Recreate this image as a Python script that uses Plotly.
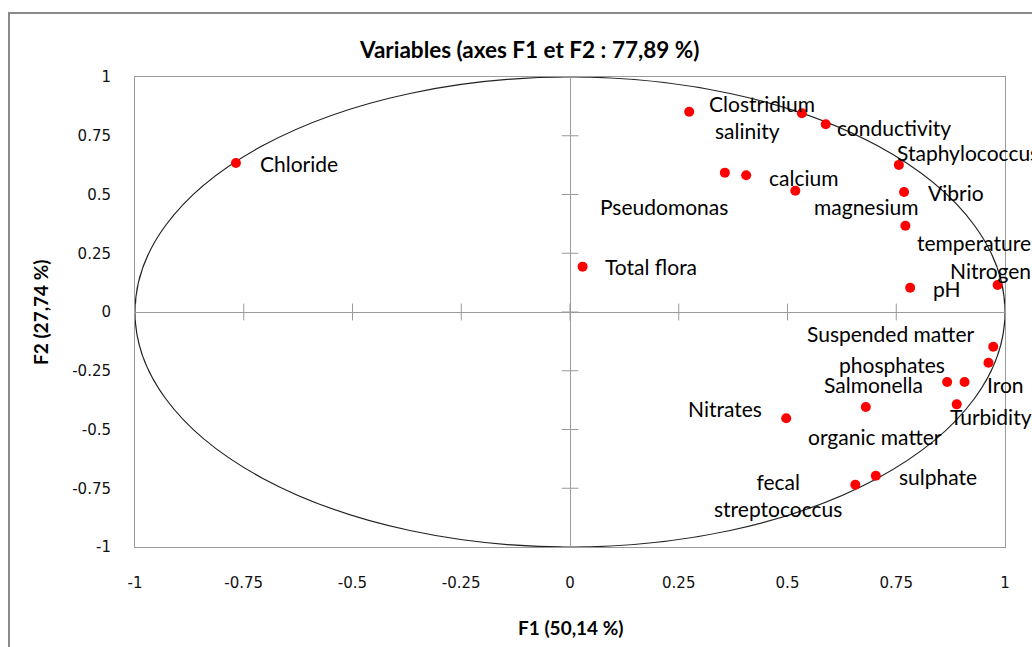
import plotly.graph_objects as go

# ---- data ----
variables = ["Chloride", "Clostridium", "salinity", "conductivity", "Staphylococcus",
             "Pseudomonas", "calcium", "magnesium", "Vibrio", "temperature",
             "Total flora", "pH", "Nitrogen", "Suspended matter", "phosphates",
             "Salmonella", "Iron", "Turbidity", "organic matter", "Nitrates",
             "sulphate", "fecal<br>streptococcus"]
f1 = [-0.768, 0.274, 0.533, 0.588, 0.756,
      0.356, 0.405, 0.518, 0.768, 0.771,
      0.029, 0.782, 0.983, 0.973, 0.962,
      0.867, 0.907, 0.889, 0.680, 0.497,
      0.703, 0.656]
f2 = [0.634, 0.852, 0.846, 0.799, 0.626,
      0.593, 0.582, 0.516, 0.511, 0.367,
      0.193, 0.103, 0.115, -0.148, -0.216,
      -0.298, -0.298, -0.393, -0.404, -0.452,
      -0.697, -0.735]
tick_values = [-1, -0.75, -0.5, -0.25, 0, 0.25, 0.5, 0.75, 1]
tick_text = ["-1", "-0.75", "-0.5", "-0.25", "0", "0.25", "0.5", "0.75", "1"]
title_text = "Variables (axes F1 et F2 : 77,89 %)"
x_title = "F1 (50,14 %)"
y_title = "F2 (27,74 %)"

# ---- label placement (pixel offsets from each point) ----
label_dx = [22, 18, -89, 9, -4,
            -127, 21, 17, 22, 10,
            20, 21, -50, -188, -151,
            -125, 20, -9, -60, -100,
            21, -77]
label_dy = [0, 8, -17, -3, 12,
            -34, -2, -16, -1, -17,
            0, -1, 14, 13, -2,
            -2, -2, -12, -30, 10,
            -1, -10]
label_anchor = ["left"] * 21 + ["center"]

W, H = 1032, 647
ML, MR, MT, MB = 135, 27, 77, 100
PW, PH = W - ML - MR, H - MT - MB


def px(xp):
    return (xp - ML) / PW


def py(yp):
    return (H - MB - yp) / PH


LABEL_FONT = dict(family="Lato", size=21, color="black")
GRAY = "#9a9a9a"

fig = go.Figure()

# cross tick marks on the zero lines
fig.add_trace(go.Scatter(
    x=tick_values, y=[0] * len(tick_values), mode="markers",
    marker=dict(symbol="line-ns", size=12, line=dict(width=1, color=GRAY)),
    hoverinfo="skip", showlegend=False))
fig.add_trace(go.Scatter(
    x=[0] * len(tick_values), y=tick_values, mode="markers",
    marker=dict(symbol="line-ew", size=12, line=dict(width=1, color=GRAY)),
    hoverinfo="skip", showlegend=False))

# variables
fig.add_trace(go.Scatter(
    x=f1, y=f2, mode="markers",
    marker=dict(color="#ff0000", size=10),
    text=variables, hoverinfo="text", showlegend=False))

annotations = []
for name, xv, yv, dx, dy, anc in zip(variables, f1, f2, label_dx, label_dy, label_anchor):
    annotations.append(dict(
        x=xv, y=yv, xref="x", yref="y", text=name, showarrow=False,
        xanchor=anc, yanchor="middle", xshift=dx, yshift=dy,
        font=LABEL_FONT, align="center"))

annotations.append(dict(
    x=px(528.5), y=py(50), xref="paper", yref="paper", text=title_text,
    showarrow=False, xanchor="center", yanchor="middle",
    font=dict(family="Lato", size=22.5, color="black", weight="bold")))
annotations.append(dict(
    x=px(571), y=py(627), xref="paper", yref="paper", text=x_title,
    showarrow=False, xanchor="center", yanchor="middle",
    font=dict(family="Lato", size=19, color="black", weight="bold")))
annotations.append(dict(
    x=px(40), y=py(312), xref="paper", yref="paper", text=y_title,
    showarrow=False, xanchor="center", yanchor="middle", textangle=-90,
    font=dict(family="Lato", size=19, color="black", weight="bold")))

shapes = [
    dict(type="circle", xref="x", yref="y", x0=-1, y0=-1, x1=1, y1=1,
         line=dict(color="#222222", width=1.2), layer="below"),
    dict(type="rect", xref="paper", yref="paper",
         x0=px(9), y0=py(700), x1=px(1060), y1=py(13),
         line=dict(color="#8a8a8a", width=2), layer="below"),
]

fig.update_layout(
    width=W, height=H,
    margin=dict(l=ML, r=MR, t=MT, b=MB, pad=0),
    paper_bgcolor="white", plot_bgcolor="white",
    annotations=annotations, shapes=shapes,
    showlegend=False,
    xaxis=dict(range=[-1, 1], tickvals=tick_values, ticktext=tick_text,
               showgrid=False, zeroline=True, zerolinecolor=GRAY, zerolinewidth=1,
               showline=True, linecolor=GRAY, linewidth=1, mirror=True,
               ticks="", ticklabelstandoff=22,
               tickfont=dict(family="DejaVu Sans", size=15, color="#111111")),
    yaxis=dict(range=[-1, 1], tickvals=tick_values, ticktext=tick_text,
               showgrid=False, zeroline=True, zerolinecolor=GRAY, zerolinewidth=1,
               showline=True, linecolor=GRAY, linewidth=1, mirror=True,
               ticks="", ticklabelstandoff=20,
               tickfont=dict(family="DejaVu Sans", size=15, color="#111111")),
)

fig.write_html("out.html", config={"displayModeBar": False})
